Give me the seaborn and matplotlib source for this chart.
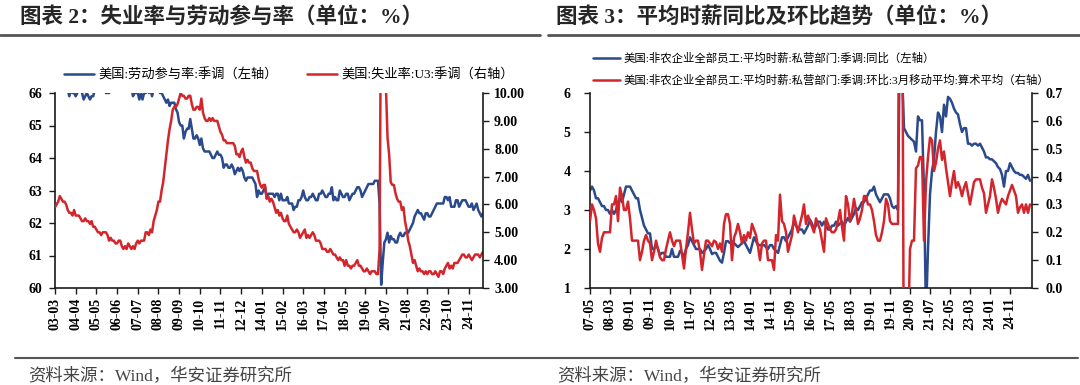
import numpy as np
import matplotlib
matplotlib.use("Agg")
import matplotlib.pyplot as plt
import seaborn as sns
from matplotlib.lines import Line2D
from matplotlib.ticker import FormatStrFormatter

sns.set_style("ticks")
FONTS = ["Liberation Serif", "Noto Sans CJK SC", "DejaVu Sans"]
plt.rcParams["font.family"] = FONTS
plt.rcParams["axes.unicode_minus"] = False

BLUE = "#2B4A8B"
RED = "#D3262C"
GREY = "#555555"

# --- Chart 2: monthly, 2003-03 .. 2025-08 ---
lfpr = [
    66.3, 66.4, 66.4, 66.5, 66.2, 66.1, 66.1, 66.1, 66.1, 65.9,
    66.1, 66.0, 66.0, 65.9, 66.0, 66.1, 66.1, 66.0, 65.8, 65.9, 66.0, 65.9,
    65.8, 65.9, 65.9, 66.1, 66.1, 66.1, 66.2, 66.2, 66.1, 66.1, 66.0, 66.0,
    66.0, 66.1, 66.2, 66.1, 66.1, 66.2, 66.1, 66.2, 66.1, 66.2, 66.3, 66.4,
    66.4, 66.3, 66.2, 65.9, 66.0, 66.0, 66.0, 65.8, 66.0, 65.8, 66.0, 66.0,
    66.2, 66.0, 66.1, 65.9, 66.1, 66.1, 66.1, 66.1, 66.0, 66.0, 65.9, 65.8,
    65.7, 65.8, 65.6, 65.7, 65.7, 65.7, 65.5, 65.4, 65.1, 65.0, 65.0, 64.6,
    64.8, 64.9, 64.9, 65.2, 64.9, 64.6, 64.6, 64.7, 64.6, 64.4, 64.6, 64.3,
    64.2, 64.2, 64.2, 64.2, 64.1, 64.0, 64.0, 64.1, 64.2, 64.1, 64.1, 64.0,
    63.7, 63.8, 63.8, 63.7, 63.7, 63.8, 63.7, 63.5, 63.6, 63.7, 63.6, 63.7,
    63.6, 63.4, 63.3, 63.4, 63.4, 63.4, 63.4, 63.3, 63.2, 62.8, 63.0, 62.9,
    62.9, 63.0, 63.1, 62.8, 62.9, 62.9, 62.9, 62.9, 62.8, 62.9, 62.9, 62.7,
    62.9, 62.7, 62.7, 62.7, 62.8, 62.6, 62.6, 62.6, 62.4, 62.5, 62.5, 62.7,
    62.7, 62.8, 63.0, 62.8, 62.7, 62.7, 62.8, 62.8, 62.9, 62.8, 62.7, 62.7,
    62.9, 62.9, 63.0, 62.9, 62.8, 62.8, 62.9, 62.9, 63.1, 62.7, 62.8, 62.7,
    62.7, 63.0, 62.9, 62.8, 62.8, 62.9, 62.9, 62.7, 62.8, 62.9, 62.9, 63.0,
    63.1, 63.1, 63.0, 62.8, 62.9, 63.0, 63.1, 63.2, 63.2, 63.2, 63.2, 63.3,
    63.3, 63.3, 62.6, 60.1, 60.8, 61.4, 61.5, 61.7, 61.4, 61.6, 61.5, 61.5,
    61.4, 61.4, 61.6, 61.7, 61.6, 61.6, 61.7, 61.7, 61.7, 61.8, 61.9, 62.0,
    62.2, 62.3, 62.4, 62.3, 62.3, 62.2, 62.1, 62.3, 62.3, 62.2, 62.2, 62.3,
    62.4, 62.5, 62.6, 62.6, 62.6, 62.6, 62.6, 62.8, 62.8, 62.7, 62.8, 62.5,
    62.5, 62.5, 62.7, 62.7, 62.5, 62.6, 62.7, 62.7, 62.7, 62.6, 62.5, 62.5,
    62.6, 62.4, 62.5, 62.6, 62.4, 62.3, 62.2, 62.3,
]
unemp = [
    5.9, 6.0, 6.1, 6.3, 6.2, 6.1, 6.1, 6.0, 5.8, 5.7,
    5.7, 5.6, 5.8, 5.6, 5.6, 5.6, 5.5, 5.4, 5.4, 5.5, 5.4, 5.4,
    5.3, 5.4, 5.2, 5.2, 5.1, 5.0, 5.0, 4.9, 5.0, 5.0, 5.0, 4.9,
    4.7, 4.8, 4.7, 4.7, 4.6, 4.6, 4.7, 4.7, 4.5, 4.4, 4.5, 4.4,
    4.6, 4.5, 4.4, 4.5, 4.4, 4.6, 4.7, 4.6, 4.7, 4.7, 4.7, 5.0,
    5.0, 4.9, 5.1, 5.0, 5.4, 5.6, 5.8, 6.1, 6.1, 6.5, 6.8, 7.3,
    7.8, 8.3, 8.7, 9.0, 9.4, 9.5, 9.5, 9.6, 9.8, 10.0, 9.9, 9.9,
    9.8, 9.8, 9.9, 9.9, 9.6, 9.4, 9.4, 9.5, 9.5, 9.4, 9.8, 9.3,
    9.1, 9.0, 9.0, 9.1, 9.0, 9.1, 9.0, 9.0, 9.0, 8.8, 8.6, 8.5,
    8.3, 8.3, 8.2, 8.2, 8.2, 8.2, 8.2, 8.1, 7.8, 7.8, 7.7, 7.9,
    8.0, 7.7, 7.5, 7.6, 7.5, 7.5, 7.3, 7.2, 7.2, 7.2, 6.9, 6.7,
    6.6, 6.7, 6.7, 6.2, 6.3, 6.1, 6.2, 6.1, 5.9, 5.7, 5.8, 5.6,
    5.7, 5.5, 5.4, 5.4, 5.6, 5.3, 5.2, 5.1, 5.0, 5.0, 5.1, 5.0,
    4.8, 4.9, 5.0, 5.1, 4.8, 4.9, 4.8, 4.9, 5.0, 4.9, 4.7, 4.7,
    4.7, 4.6, 4.4, 4.4, 4.4, 4.3, 4.3, 4.4, 4.3, 4.2, 4.2, 4.1,
    4.0, 4.1, 4.0, 4.0, 3.8, 4.0, 3.8, 3.8, 3.7, 3.8, 3.8, 3.9,
    4.0, 3.8, 3.8, 3.7, 3.6, 3.6, 3.7, 3.6, 3.5, 3.6, 3.6, 3.6,
    3.5, 3.5, 4.4, 14.8, 13.2, 11.0, 10.2, 8.4, 7.8, 6.8, 6.7, 6.7,
    6.4, 6.2, 6.1, 6.1, 5.8, 5.9, 5.4, 5.1, 4.7, 4.5, 4.2, 3.9,
    4.0, 3.8, 3.6, 3.7, 3.6, 3.6, 3.5, 3.6, 3.5, 3.6, 3.6, 3.5,
    3.5, 3.6, 3.5, 3.4, 3.6, 3.6, 3.5, 3.7, 3.8, 3.9, 3.7, 3.8,
    3.7, 3.9, 3.9, 3.9, 4.0, 4.1, 4.2, 4.2, 4.1, 4.1, 4.2, 4.1,
    4.0, 4.1, 4.2, 4.2, 4.2, 4.1, 4.2, 4.3,
]
ticks2 = ["03-03", "04-04", "05-05", "06-06", "07-07", "08-08", "09-09",
          "10-10", "11-11", "12-12", "14-01", "15-02", "16-03", "17-04",
          "18-05", "19-06", "20-07", "21-08", "22-09", "23-10", "24-11"]

# --- Chart 3: monthly, 2007-05 .. 2025-09 ---
ahe_yoy = [
    3.5, 3.6, 3.5, 3.3, 3.3, 3.2, 3.1, 3.1, 3.0, 3.0,
    2.9, 3.0, 2.9, 3.0, 3.2, 3.3, 3.2, 3.4, 3.6, 3.6,
    3.6, 3.5, 3.4, 3.3, 3.3, 3.0, 2.8, 2.6, 2.5, 2.4,
    2.4, 2.0, 2.0, 2.1, 2.0, 1.85, 1.9, 1.9, 1.8, 1.8,
    1.8, 2.0, 1.8, 1.8, 1.8, 1.95, 1.9, 1.8, 2.0, 2.1,
    2.3, 2.2, 2.1, 2.0, 2.0, 2.0, 1.9, 1.95, 2.0, 2.1,
    2.0, 1.87, 1.9, 1.9, 1.8, 1.7, 1.65, 1.9, 2.2, 2.2,
    2.15, 2.2, 2.15, 2.1, 2.05, 2.1, 2.15, 2.2, 2.1, 2.0,
    1.9, 2.1, 2.3, 2.2, 2.1, 2.1, 2.1, 2.1, 2.05, 2.0,
    2.1, 2.1, 2.0, 1.95, 1.9, 2.1, 2.3, 2.3, 2.2, 2.3,
    2.4, 2.5, 2.7, 2.6, 2.5, 2.5, 2.5, 2.4, 2.5, 2.6,
    2.75, 2.65, 2.5, 2.6, 2.7, 2.7, 2.6, 2.7, 2.6, 2.5,
    2.5, 2.6, 2.6, 2.7, 2.6, 2.65, 2.7, 2.6, 2.7, 2.8,
    2.7, 2.8, 2.9, 3.05, 3.0, 3.1, 3.2, 3.2, 3.3, 3.4,
    3.5, 3.5, 3.6, 3.4, 3.3, 3.2, 3.3, 3.4, 3.4, 3.4,
    3.3, 3.1, 3.05, 3.1, 3.0, 8.0, 6.6, 5.1, 5.0, 4.9,
    4.85, 4.8, 4.75, 4.5, 5.4, 5.3, 5.3, 3.5, 0.3, 2.0,
    3.4, 4.0, 4.3, 5.0, 5.5, 5.4, 5.0, 5.7, 5.4, 5.9,
    5.85, 5.75, 5.6, 5.5, 5.45, 5.2, 5.0, 5.1, 5.1, 4.7,
    4.7, 4.65, 4.7, 4.7, 4.65, 4.7, 4.6, 4.5, 4.35, 4.35,
    4.3, 4.3, 4.25, 4.2, 4.1, 4.05, 3.9, 3.6, 4.0, 4.0,
    4.2, 4.1, 4.0, 3.95, 3.95, 3.9, 3.9, 3.85, 3.8, 3.9,
    3.75,
]
ahe_mom3 = [
    0.24, 0.30, 0.28, 0.25, 0.16, 0.13, 0.18, 0.20, 0.20, 0.20,
    0.20, 0.30, 0.30, 0.33, 0.24, 0.36, 0.33, 0.28, 0.28, 0.31,
    0.25, 0.17, 0.17, 0.17, 0.17, 0.10, 0.13, 0.17, 0.19, 0.17,
    0.16, 0.10, 0.13, 0.17, 0.14, 0.11, 0.10, 0.10, 0.14, 0.17,
    0.20, 0.17, 0.15, 0.17, 0.17, 0.17, 0.12, 0.07, 0.14, 0.20,
    0.27, 0.21, 0.16, 0.17, 0.17, 0.13, 0.065, 0.12, 0.17, 0.17,
    0.16, 0.15, 0.17, 0.165, 0.14, 0.16, 0.13, 0.23, 0.265, 0.265,
    0.23, 0.10, 0.18, 0.20, 0.23, 0.20, 0.16, 0.19, 0.17, 0.20,
    0.18, 0.23, 0.21, 0.19, 0.15, 0.10, 0.16, 0.17, 0.17, 0.10,
    0.10, 0.10, 0.065, 0.19, 0.17, 0.335, 0.24, 0.23, 0.20, 0.13,
    0.16, 0.19, 0.26, 0.23, 0.20, 0.23, 0.26, 0.30, 0.23, 0.26,
    0.24, 0.22, 0.20, 0.25, 0.23, 0.21, 0.17, 0.13, 0.25, 0.23,
    0.21, 0.20, 0.20, 0.21, 0.24, 0.28, 0.22, 0.17, 0.33, 0.30,
    0.24, 0.27, 0.32, 0.28, 0.23, 0.25, 0.28, 0.33, 0.33, 0.30,
    0.30, 0.28, 0.24, 0.19, 0.17, 0.17, 0.20, 0.24, 0.32, 0.30,
    0.24, 0.23, 0.23, 0.23, 0.23, 1.90, 1.40, -0.50, -0.60, -0.20,
    0.14, 0.17, 0.17, 0.43, 0.44, 0.47, 0.47, 0.17, 0.38, 0.47,
    0.54, 0.53, 0.42, 0.45, 0.50, 0.53, 0.46, 0.49, 0.43, 0.38,
    0.33, 0.38, 0.42, 0.36, 0.38, 0.36, 0.33, 0.36, 0.38, 0.34,
    0.30, 0.34, 0.38, 0.39, 0.39, 0.39, 0.36, 0.34, 0.27, 0.30,
    0.33, 0.39, 0.36, 0.32, 0.27, 0.30, 0.32, 0.31, 0.30, 0.33,
    0.35, 0.37, 0.35, 0.33, 0.27, 0.29, 0.30, 0.27, 0.30, 0.27,
    0.30,
]
ticks3 = ["07-05", "08-03", "09-01", "09-11", "10-09", "11-07", "12-05",
          "13-03", "14-01", "14-11", "15-09", "16-07", "17-05", "18-03",
          "19-01", "19-11", "20-09", "21-07", "22-05", "23-03", "24-01",
          "24-11"]

W, H = 1080, 385
fig = plt.figure(figsize=(W / 100, H / 100), dpi=100)


def fx(px):
    return px / W


def fy(py):
    return 1 - py / H


def draw_panel(rect, left_vals, right_vals, labels, step, xmax,
               ylim, yfmt, ylim2, yfmt2, lpad, rpad):
    ax = fig.add_axes(rect)
    x_left = np.arange(len(left_vals))
    x_right = np.arange(len(right_vals))
    sns.lineplot(x=x_left, y=left_vals, ax=ax, color=BLUE, linewidth=1.8)
    ax2 = ax.twinx()
    sns.lineplot(x=x_right, y=right_vals, ax=ax2, color=RED, linewidth=1.8)

    ax.set_xlim(0, xmax)
    ax.set_xticks(np.arange(len(labels)) * step)
    ax.set_xticklabels(labels, rotation=90)
    ax.set_ylim(*ylim)
    ax.set_yticks(np.arange(ylim[0], ylim[1] + 1e-9, 1))
    ax.yaxis.set_major_formatter(FormatStrFormatter(yfmt))
    ax2.set_ylim(*ylim2[:2])
    ax2.set_yticks(np.arange(ylim2[0], ylim2[1] + 1e-9, ylim2[2]))
    ax2.yaxis.set_major_formatter(FormatStrFormatter(yfmt2))

    for a in (ax, ax2):
        a.set_xlabel("")
        a.set_ylabel("")
        a.spines["top"].set_visible(False)
        for s in ("left", "right", "bottom"):
            a.spines[s].set_color("#1a1a1a")
            a.spines[s].set_linewidth(1.2)
        a.tick_params(direction="out", length=4, width=1.0, color="#1a1a1a",
                      labelsize=10, labelcolor="black")
        for t in a.get_xticklabels() + a.get_yticklabels():
            t.set_fontweight("bold")
    ax.spines["right"].set_visible(False)
    ax2.spines["left"].set_visible(False)
    ax2.spines["bottom"].set_visible(False)
    ax.tick_params(axis="y", pad=lpad)
    ax.tick_params(axis="x", pad=3)
    ax2.tick_params(axis="y", pad=rpad)
    return ax, ax2


# left panel
ax_l, ax_l2 = draw_panel([fx(55), fy(288), fx(428), fy(93) - fy(288)],
                         lfpr, unemp, ticks2, 13, len(lfpr) - 1,
                         (60, 66), "%d", (3, 10, 1), "%.2f", 5, 4)
# right panel
ax_r, ax_r2 = draw_panel([fx(590), fy(288), fx(442), fy(93) - fy(288)],
                         ahe_yoy, ahe_mom3, ticks3, 10, len(ahe_yoy),
                         (1, 6), "%d", (0, 0.7, 0.1), "%.1f", 10, 6)

# legends
h_blue = Line2D([], [], color=BLUE, lw=1.8)
h_red = Line2D([], [], color=RED, lw=1.8)
leg_a = fig.legend([h_blue, h_red],
                   ["美国:劳动参与率:季调（左轴）", "美国:失业率:U3:季调（右轴）"],
                   loc="center", bbox_to_anchor=(fx(289), fy(75)), ncol=2,
                   frameon=False, fontsize=9.5, handlelength=2.3,
                   handletextpad=0.3, columnspacing=2.2, borderpad=0)
leg_b = fig.legend([h_blue, h_red],
                   ["美国:非农企业全部员工:平均时薪:私营部门:季调:同比（左轴）",
                    "美国:非农企业全部员工:平均时薪:私营部门:季调:环比:3月移动平均:算术平均（右轴）"],
                   loc="upper left", bbox_to_anchor=(fx(587), fy(47)), ncol=1,
                   frameon=False, fontsize=8.2, handlelength=2.4,
                   handletextpad=0.3, labelspacing=0.9, borderpad=0)
for leg in (leg_a, leg_b):
    for t in leg.get_texts():
        t.set_fontweight("medium")
        t.set_color("black")

# titles and rules
fig.text(fx(20), fy(17), "图表 2：失业率与劳动参与率（单位：%）",
         fontsize=15.5, fontweight="bold", va="center", ha="left")
fig.text(fx(556), fy(17), "图表 3：平均时薪同比及环比趋势（单位：%）",
         fontsize=15.5, fontweight="bold", va="center", ha="left")
for x0, x1 in ((0, 540), (548, 1080)):
    fig.add_artist(Line2D([fx(x0), fx(x1)], [fy(35), fy(35)],
                          color=GREY, lw=2))
for x0, x1 in ((15, 540), (540, 1078)):
    fig.add_artist(Line2D([fx(x0), fx(x1)], [fy(358), fy(358)],
                          color=GREY, lw=1.5))
fig.text(fx(28), fy(377), "资料来源：Wind，华安证券研究所",
         fontsize=12.5, color="#444444", va="center", ha="left")
fig.text(fx(557), fy(377), "资料来源：Wind，华安证券研究所",
         fontsize=12.5, color="#444444", va="center", ha="left")

fig.savefig("out.png", dpi=100, facecolor="white")
